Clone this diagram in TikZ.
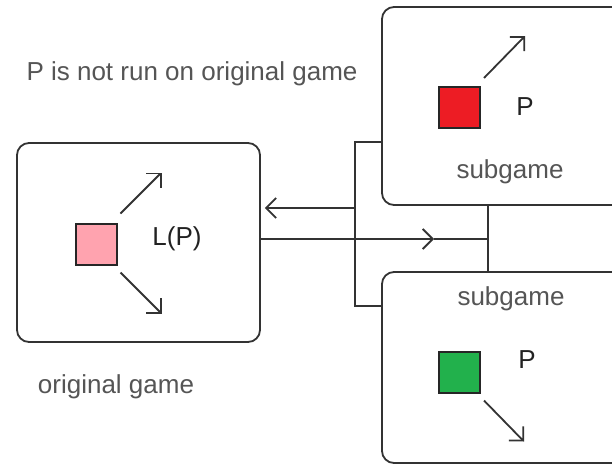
\documentclass[tikz,border=0pt]{standalone}
\usepackage{fontspec}
\setmainfont{Liberation Sans}
\usetikzlibrary{arrows.meta,calc}
\definecolor{linec}{HTML}{333333}
\definecolor{graytxt}{HTML}{555555}
\definecolor{darktxt}{HTML}{222222}
\definecolor{pinkc}{HTML}{FFA3AF}
\definecolor{redc}{HTML}{ED1C24}
\definecolor{greenc}{HTML}{22B14C}
\tikzset{
  gamebox/.style={draw=linec, line width=1.8pt, rounded corners=12pt, inner sep=0pt},
  sq/.style={draw=black!85, line width=2pt, minimum size=41pt, inner sep=0pt},
  conn/.style={draw=linec, line width=1.8pt},
  arr/.style={conn, -{Straight Barb[length=10pt,width=20pt,line width=1.8pt]}},
  lbl/.style={font=\fontsize{26}{30}\selectfont, text=graytxt, anchor=base, inner sep=0pt},
  plbl/.style={lbl, text=darktxt}
}
\begin{document}
\begin{tikzpicture}[x=1pt,y=-1pt]
\clip (0,0) rectangle (612,466);
\fill[white] (0,0) rectangle (612,466);
% boxes
\node[gamebox, minimum width=243pt, minimum height=199pt] (left) at (138.5,242.5) {};
\node[gamebox, minimum width=260pt, minimum height=198pt] (top) at (512,106) {};
\node[gamebox, minimum width=260pt, minimum height=191pt] (bot) at (512,367.5) {};
% squares
\node[sq, fill=pinkc] (ps) at (96,244) {};
\node[sq, fill=redc] (rs) at (459.5,107.5) {};
\node[sq, fill=greenc] (gs) at (459.5,372) {};
% square arrows
\draw[arr] ($(ps.north east)+(3,-9)$) -- ++(41,-41);
\draw[arr] ($(ps.south east)+(3,7)$) -- ++(41,41);
\draw[arr] ($(rs.north east)+(3,-8)$) -- ++(41,-42);
\draw[arr] ($(gs.south east)+(3,7)$) -- ++(40,41);
% labels
\node[lbl] (t1) at (192,80) {P is not run on original game};
\node[lbl] (t2) at (116,393) {original game};
\node[lbl] (t3) at (510,178) {subgame};
\node[lbl] (t4) at (511,305) {subgame};
\node[plbl] (t5) at (177,245) {L(P)};
\node[plbl] (t6) at (525,115) {P};
\node[plbl] (t7) at (527,368) {P};
% connectors
\coordinate (j) at (488,239);
\coordinate (k) at (434,239);
\coordinate (b1) at (355,208);
\coordinate (bt) at (355,142);
\coordinate (bb) at (355,306);
\draw[arr] (left.east |- k) -- (k);
\draw[conn] (k) -- (j);
\draw[conn] (top.south -| j) -- (bot.north -| j);
\draw[arr, shorten >=4pt] (b1) -- (left.east |- b1);
\draw[conn] (top.west |- bt) -- (bt) -- (bb) -- (bot.west |- bb);
\end{tikzpicture}
\end{document}
